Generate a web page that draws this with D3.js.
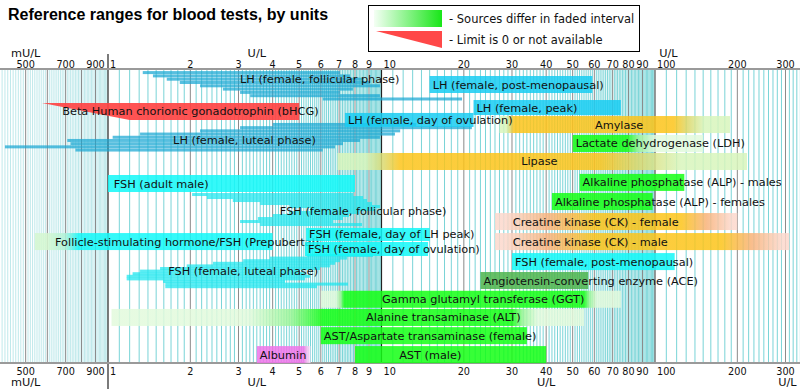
<!DOCTYPE html>
<html>
<head>
<meta charset="utf-8">
<script src="https://cdn.jsdelivr.net/npm/d3@7"></script>
<style>
body { margin: 0; background: #fff; }
svg { display: block; font-family: "DejaVu Sans", sans-serif; }
</style>
</head>
<body>
<svg id="chart" width="800" height="389"></svg>
<script>
// reference ranges, U/L : [faded low, low, high, faded high]
const tests = [
  "LH (female, post-menopausal)", "Beta Human chorionic gonadotrophin (bHCG)", "LH (female, peak)",
  "LH (female, day of ovulation)", "Amylase", "Lactate dehydrogenase (LDH)", "Lipase", "FSH (adult male)",
  "Alkaline phosphatase (ALP) - males", "Alkaline phosphatase (ALP) - females", "Creatine kinase (CK) - female",
  "Follicle-stimulating hormone/FSH (Prepubertal)", "Creatine kinase (CK) - male", "FSH (female, day of LH peak)",
  "FSH (female, day of ovulation)", "FSH (female, post-menopausal)", "Angiotensin-converting enzyme (ACE)",
  "Gamma glutamyl transferase (GGT)", "Alanine transaminase (ALT)", "AST/Aspartate transaminase (female)",
  "AST (male)", "Albumin"
];
const ranges = [
  [15, 15, 59, 59], [0.574, 1.2, 5, 5], [21.7, 21.7, 75, 75],
  [7.35, 7.35, 21.7, 21.7], [27, 30.5, 117, 188], [50, 50, 79, 150], [6.9, 11.7, 63, 217], [1, 1, 8, 8],
  [53, 53, 128, 128], [42, 42, 98, 98], [26, 60, 125, 200],
  [0.54, 0.78, 4, 4], [26, 60, 175, 310], [5.3, 5.3, 15, 15],
  [5.25, 5.25, 14.8, 14.8], [30, 30, 118, 118], [23, 23, 57, 57],
  [6, 7.3, 55, 75], [1.03, 6.1, 30, 55], [6, 6, 34, 34],
  [8, 8, 40, 40], [3.5, 3.5, 5.2, 5.5]
];
const kinds = [
  "lh", "hcg", "lh", "lh", "gold", "green", "gold", "fsh", "green", "green", "ck",
  "fsh", "ck", "fsh", "fsh", "fsh", "ace", "green", "green", "green", "green", "albumin"
];
// where a label starts, U/L (null = at the bar start)
const labelAt = [
  null, 0.68, null, null, 60.3, null, 32.4, 1.05, null, null, 30.2,
  0.64, 30.2, null, null, null, null, 10.05, 8.78, null, 11.6, null
];

// multi-source ranges, U/L
const lhFollicular = [[1.34, 7.05], [1.46, 7.67], [1.64, 8.56], [1.83, 9.08], [2.17, 9.87], [2.63, 7.86], [3.04, 7.05], [3.31, 9.87], [6.1, 19.7]];
const lhLuteal = [[4.0, 13.4], [3.04, 21.4], [2.17, 11.7], [1.31, 11.2], [1.04, 9.87], [0.71, 8.34], [0.73, 7.23], [0.42, 6.76], [0.76, 6.1]];
const fshFollicular = [[2.03, 7.87], [2.3, 8.56], [2.86, 8.85], [3.6, 9.23], [4.63, 9.87], [5.48, 9.47], [4.6, 8.3], [4.0, 7.6], [3.53, 7.23], [3.04, 6.65], [3.6, 8.49]];
const fshLuteal = [[5.34, 9.31], [3.91, 7.48], [3.12, 7.05], [2.42, 6.76], [1.94, 6.48], [1.55, 5.96], [1.31, 5.04], [1.23, 5.25], [1.17, 5.48], [1.17, 5.25], [1.59, 4.44], [1.62, 7.54], [1.62, 5.81]];
const stackNames = ["LH (female, follicular phase)", "LH (female, luteal phase)", "FSH (female, follicular phase)", "FSH (female, luteal phase)"];
const stackLabelAt = [3.04, 1.73, 4.25, 1.66];

const tickVals = [0.5, 0.7, 0.9, 1, 2, 3, 4, 5, 6, 7, 8, 9, 10, 20, 30, 40, 50, 60, 70, 80, 90, 100, 200, 300];

// ---- layout (rows, heights) ----
const rowOf = [0, 1.48, 1.32, 2.03, 2.2, 3.24, 4.23, 5.44, 5.38, 6.43, 7.53, 8.63, 8.63, 8.35, 9.12, 9.73, 10.77, 11.8, 12.8, 13.8, 14.84, 14.84];
const heightOf = { 2: 15, 3: 14, 13: 13, 14: 14 };
const stackLayout = [
  { data: lhFollicular, row: -0.27, step: 3.3, labelRow: -0.25, kind: "lhs" },
  { data: lhLuteal, row: 2.58, step: 3.2, labelRow: 3.1, kind: "lhs" },
  { data: fshFollicular, row: 6.43, step: 3, labelRow: 6.98, kind: "fshs" },
  { data: fshLuteal, row: 9.78, step: 2.6, labelRow: 10.25, kind: "fshs" }
];
// draw order: bar index or "s" + stack index
const order = ["s0", 0, 1, 2, "s1", 4, 3, 5, 6, 7, 8, 9, "s2", 10, 11, 12, "s3", 13, 14, 15, 16, 17, 18, 19, 20, 21];

const color = {
  lh: "#18ccf2", fsh: "#12f8f8", green: "#14ff14", gold: "#fcc41a", ck: "#fcc41a",
  ace: "#4cb44c", albumin: "#f074ea", hcg: "#ff4444", lhs: "#18a6d2", fshs: "#1ae6ee"
};
// faded interval: [mid colour, outer colour, mid at, outer from] (fractions of the interval, from the solid edge)
const fade = {
  green: ["#9af596", "#e2fadc", 0.15, 0.35], gold: ["#dcd86a", "#d8f5bc", 0.25, 0.55],
  ck: ["#f8b27a", "#fcd8cc", 0.45, 0.9], fsh: ["#aef2d8", "#d4f7d0", 0.3, 0.7],
  albumin: ["#f4b0ee", "#fae0f8", 0.4, 0.9]
};

const W = 800, H = 389, yTop = 69, yBot = 363;
const x = d3.scaleLog().domain([1, 100]).range([108, 655]);
const rowY = d3.scaleLinear().domain([0, 1]).range([76, 94.2]);
const fs = "11.3px";

const svg = d3.select("#chart");
const defs = svg.append("defs");

// title
svg.append("text").attr("x", 8).attr("y", 20)
  .style("font-family", "'Liberation Sans', Arial, sans-serif")
  .style("font-weight", "bold").style("font-size", "16px")
  .text("Reference ranges for blood tests, by units");

// ---- grid ----
const leftMinor = [], minor = [], major = [];
for (let v = 40; v <= 99; v++) (v % 10 ? leftMinor : major).push(v / 100);
for (let v = 11; v <= 99; v++) (v % 10 ? minor : major).push(v / 10);
for (let v = 11; v <= 99; v++) (v % 10 ? minor : major).push(v);
for (let v = 11; v <= 34; v++) (v % 10 ? minor : major).push(v * 10);
const decades = [1, 10, 100];

const grid = svg.append("g");
grid.selectAll(".lm").data(leftMinor).join("line")
  .attr("x1", d => x(d)).attr("x2", d => x(d)).attr("y1", yTop).attr("y2", yBot)
  .attr("stroke", "#bfe9eb").attr("stroke-width", 1);
grid.selectAll(".mn").data(minor).join("line")
  .attr("x1", d => x(d)).attr("x2", d => x(d)).attr("y1", yTop).attr("y2", yBot)
  .attr("stroke", "#4cc6ca").attr("stroke-opacity", 0.75).attr("stroke-width", 1);
grid.selectAll(".mj").data(major).join("line")
  .attr("x1", d => x(d)).attr("x2", d => x(d)).attr("y1", yTop).attr("y2", yBot)
  .attr("stroke", "#8a8a8a").attr("stroke-width", 1);
grid.selectAll(".dc").data(decades).join("line")
  .attr("x1", d => x(d)).attr("x2", d => x(d))
  .attr("y1", d => d === 1 ? 54 : yTop).attr("y2", d => d === 1 ? H : yBot)
  .attr("stroke", d => d === 100 ? "#555" : "#222").attr("stroke-width", 1.2);

// axis lines
[yTop, yBot].forEach(yy => svg.append("line").attr("x1", 0).attr("x2", W)
  .attr("y1", yy).attr("y2", yy).attr("stroke", "#9a9a9a").attr("stroke-width", 2));

// tick labels (top and bottom)
const fmt = v => v < 1 ? String(Math.round(v * 1000)) : String(v);
[67.5, 375].forEach(yy => {
  svg.append("g").selectAll("text").data(tickVals).join("text")
    .attr("x", d => decades.includes(d) ? x(d) + 2 : x(d))
    .attr("y", yy)
    .attr("text-anchor", d => decades.includes(d) ? "start" : "middle")
    .style("font-size", "9.7px").attr("fill", "#111")
    .text(fmt);
});
// unit labels
const unitTop = [[0.5, "mU/L"], [3.5, "U/L"], [112, "U/L"]];
const unitBottom = [[0.5, "mU/L"], [3.5, "U/L"], [40, "U/L"], [305, "U/L"]];
svg.append("g").selectAll("text").data(unitTop).join("text")
  .attr("x", d => x(d[0])).attr("y", 57).attr("text-anchor", "middle")
  .style("font-size", "11.3px").attr("fill", "#111").text(d => d[1]);
svg.append("g").selectAll("text").data(unitBottom).join("text")
  .attr("x", d => x(d[0])).attr("y", 386).attr("text-anchor", "middle")
  .style("font-size", "11.3px").attr("fill", "#111").text(d => d[1]);

// ---- bars ----
function barFill(i) {
  const r = ranges[i], k = kinds[i];
  if (r[0] === r[1] && r[2] === r[3]) return color[k];
  const [mid, out, fm, fo] = fade[k];
  const x0 = x(r[0]), x3 = x(r[3]);
  const off = v => (x(v) - x0) / (x3 - x0);
  const g = defs.append("linearGradient").attr("id", "fd" + i)
    .attr("gradientUnits", "userSpaceOnUse")
    .attr("x1", x0).attr("x2", x3).attr("y1", 0).attr("y2", 0);
  const stops = [];
  const a = off(r[1]), b = off(r[2]);
  if (a > 0) stops.push([0, out], [a * (1 - fo), out], [a * (1 - fm), mid]);
  stops.push([a, color[k]], [b, color[k]]);
  if (b < 1) stops.push([b + (1 - b) * fm, mid], [b + (1 - b) * fo, out], [1, out]);
  stops.forEach(s => g.append("stop").attr("offset", s[0]).attr("stop-color", s[1]));
  return "url(#fd" + i + ")";
}

const plot = svg.append("g");
order.forEach(o => {
  if (typeof o === "string") {
    const si = +o.slice(1), s = stackLayout[si];
    plot.append("g").selectAll("rect").data(s.data).join("rect")
      .attr("x", d => x(d[0])).attr("width", d => x(d[1]) - x(d[0]))
      .attr("y", (d, j) => rowY(s.row) + j * s.step).attr("height", 3)
      .attr("fill", color[s.kind]).attr("fill-opacity", 0.72);
    plot.append("text").attr("x", x(stackLabelAt[si])).attr("y", rowY(s.labelRow) + 8.5)
      .attr("dominant-baseline", "central").style("font-size", fs).attr("fill", "#111")
      .text(stackNames[si]);
    return;
  }
  const i = o, r = ranges[i], h = heightOf[i] || 17, y0 = rowY(rowOf[i]);
  if (kinds[i] === "hcg") {
    plot.append("path")
      .attr("d", `M${x(r[0])},${y0}L${x(r[2])},${y0}L${x(r[2])},${y0 + h}L${x(r[1])},${y0 + h}Z`)
      .attr("fill", color.hcg).attr("fill-opacity", 0.92);
  } else {
    plot.append("rect").attr("x", x(r[0])).attr("width", x(r[3]) - x(r[0]))
      .attr("y", y0).attr("height", h)
      .attr("fill", barFill(i)).attr("fill-opacity", 0.85);
  }
  plot.append("text")
    .attr("x", labelAt[i] != null ? x(labelAt[i]) : x(r[0]) + 3)
    .attr("y", y0 + h / 2 + 0.5)
    .attr("dominant-baseline", "central").style("font-size", fs).attr("fill", "#111")
    .text(tests[i]);
});

// ---- legend ----
const lg = svg.append("g");
lg.append("rect").attr("x", 368.5).attr("y", 5.5).attr("width", 271).attr("height", 46)
  .attr("fill", "#fff").attr("stroke", "#000").attr("stroke-width", 1);
const lgGrad = defs.append("linearGradient").attr("id", "lgg");
lgGrad.append("stop").attr("offset", 0).attr("stop-color", "#f4fff4");
lgGrad.append("stop").attr("offset", 1).attr("stop-color", "#18e618");
lg.append("rect").attr("x", 374).attr("y", 10).attr("width", 68).attr("height", 17).attr("fill", "url(#lgg)");
lg.append("path").attr("d", "M376,31L442,31L442,48Z").attr("fill", "#ff4848");
lg.append("text").attr("x", 449).attr("y", 22.5).style("font-size", "11.5px").attr("fill", "#111")
  .text("- Sources differ in faded interval");
lg.append("text").attr("x", 449).attr("y", 43.5).style("font-size", "11.5px").attr("fill", "#111")
  .text("- Limit is 0 or not available");
</script>
</body>
</html>
